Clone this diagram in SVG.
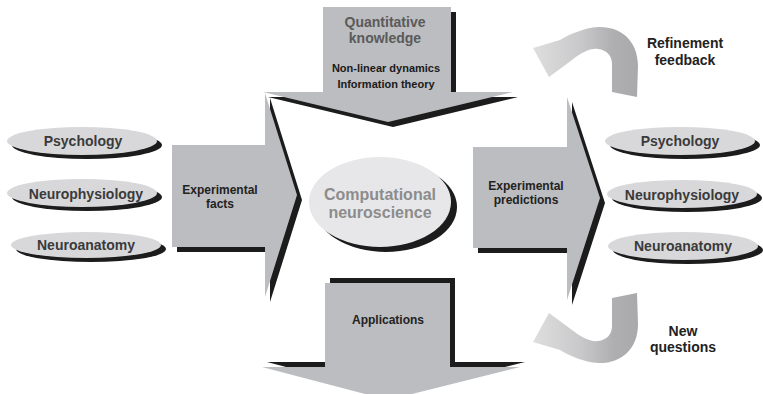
<svg xmlns="http://www.w3.org/2000/svg" width="763" height="394" viewBox="0 0 763 394">
<defs>
<style>
.arrow{fill:#bcbdc0}
.shadow{fill:#1c1c1c}
.ell{fill:#d8d8da}
.cell{fill:#e7e7e9}
text{font-family:"Liberation Sans",Arial,sans-serif;font-weight:bold;text-anchor:middle}
.lbl{font-size:14px;fill:#3a3a3a}
.box{font-size:12px;fill:#222}
.small{font-size:11px;fill:#1a1a1a}
.qk{font-size:14px;fill:#5a5a5a}
.core{font-size:16px;fill:#8c8c8c}
.side{font-size:14px;fill:#222}
</style>
<linearGradient id="curl" gradientUnits="userSpaceOnUse" x1="534" y1="0" x2="640" y2="0">
<stop offset="0" stop-color="#dedede"/>
<stop offset="0.45" stop-color="#c8c8ca"/>
<stop offset="0.75" stop-color="#afafb1"/>
<stop offset="1" stop-color="#a9a9ab"/>
</linearGradient>
<path id="curlPath" d="M 637,97 L 638,66 C 638,40 620,26 598,27 C 584,28 570,34 560,40 L 533,48 L 549,77 L 572,60 C 581,53 590,48 598,49 C 607,50 612,56 612,64 L 612,92 Z"/>
</defs>
<rect width="763" height="394" fill="#ffffff"/>

<g id="connectors">
<use href="#curlPath" fill="url(#curl)"/>
<use href="#curlPath" fill="url(#curl)" transform="translate(0,390) scale(1,-1)"/>
</g>

<g id="quantitative-knowledge">
<polygon class="shadow" transform="translate(5,5)" points="323,7 451,7 451,92 513,92 388,122 263,92 323,92"/>
<polygon class="arrow" points="323,7 451,7 451,92 513,92 388,122 263,92 323,92"/>
<text class="qk" x="385" y="27">Quantitative</text>
<text class="qk" x="385" y="43">knowledge</text>
<text class="small" x="386" y="72">Non-linear dynamics</text>
<text class="small" x="386" y="88">Information theory</text>
</g>

<g id="experimental-facts">
<polygon class="shadow" transform="translate(5,5)" points="172,145 265,145 265,93 297,195 265,297 265,247 172,247"/>
<polygon class="arrow" points="172,145 265,145 265,93 297,195 265,297 265,247 172,247"/>
<text class="box" x="220" y="194">Experimental</text>
<text class="box" x="220" y="208">facts</text>
</g>

<g id="experimental-predictions">
<polygon class="shadow" transform="translate(5,5)" points="473,147 567,147 567,97 600,198 567,300 567,248 473,248"/>
<polygon class="arrow" points="473,147 567,147 567,97 600,198 567,300 567,248 473,248"/>
<text class="box" x="526" y="190">Experimental</text>
<text class="box" x="526" y="204">predictions</text>
</g>

<g id="applications">
<polygon class="shadow" transform="translate(5,-5)" points="325,283 450,283 450,367 520,367 388,400 262,367 325,367"/>
<polygon class="arrow" points="325,283 450,283 450,367 520,367 388,400 262,367 325,367"/>
<text class="box" x="388" y="324">Applications</text>
</g>

<g id="computational-neuroscience">
<ellipse class="shadow" cx="386" cy="207" rx="71" ry="45"/>
<ellipse class="cell" cx="380" cy="202" rx="71" ry="45"/>
<text class="core" x="380" y="200">Computational</text>
<text class="core" x="380" y="218">neuroscience</text>
</g>

<g id="psychology-left">
<ellipse class="shadow" cx="87" cy="145" rx="75" ry="14"/>
<ellipse class="ell" cx="82" cy="141" rx="75" ry="14"/>
<text class="lbl" x="83" y="146">Psychology</text>
</g>
<g id="neurophysiology-left">
<ellipse class="shadow" cx="87" cy="197" rx="75" ry="14"/>
<ellipse class="ell" cx="82" cy="193" rx="75" ry="14"/>
<text class="lbl" x="86" y="199">Neurophysiology</text>
</g>
<g id="neuroanatomy-left">
<ellipse class="shadow" cx="91" cy="249" rx="75" ry="13"/>
<ellipse class="ell" cx="86" cy="245" rx="75" ry="13"/>
<text class="lbl" x="86" y="250">Neuroanatomy</text>
</g>

<g id="psychology-right">
<ellipse class="shadow" cx="685" cy="145" rx="75" ry="14"/>
<ellipse class="ell" cx="680" cy="141" rx="75" ry="14"/>
<text class="lbl" x="680" y="146">Psychology</text>
</g>
<g id="neurophysiology-right">
<ellipse class="shadow" cx="687" cy="198" rx="75" ry="14"/>
<ellipse class="ell" cx="682" cy="194" rx="75" ry="14"/>
<text class="lbl" x="682" y="200">Neurophysiology</text>
</g>
<g id="neuroanatomy-right">
<ellipse class="shadow" cx="688" cy="250" rx="75" ry="14"/>
<ellipse class="ell" cx="683" cy="246" rx="75" ry="14"/>
<text class="lbl" x="683" y="251">Neuroanatomy</text>
</g>

<g id="refinement-feedback">
<text class="side" x="685" y="48">Refinement</text>
<text class="side" x="685" y="65">feedback</text>
</g>
<g id="new-questions">
<text class="side" x="683" y="336">New</text>
<text class="side" x="683" y="352">questions</text>
</g>
</svg>
